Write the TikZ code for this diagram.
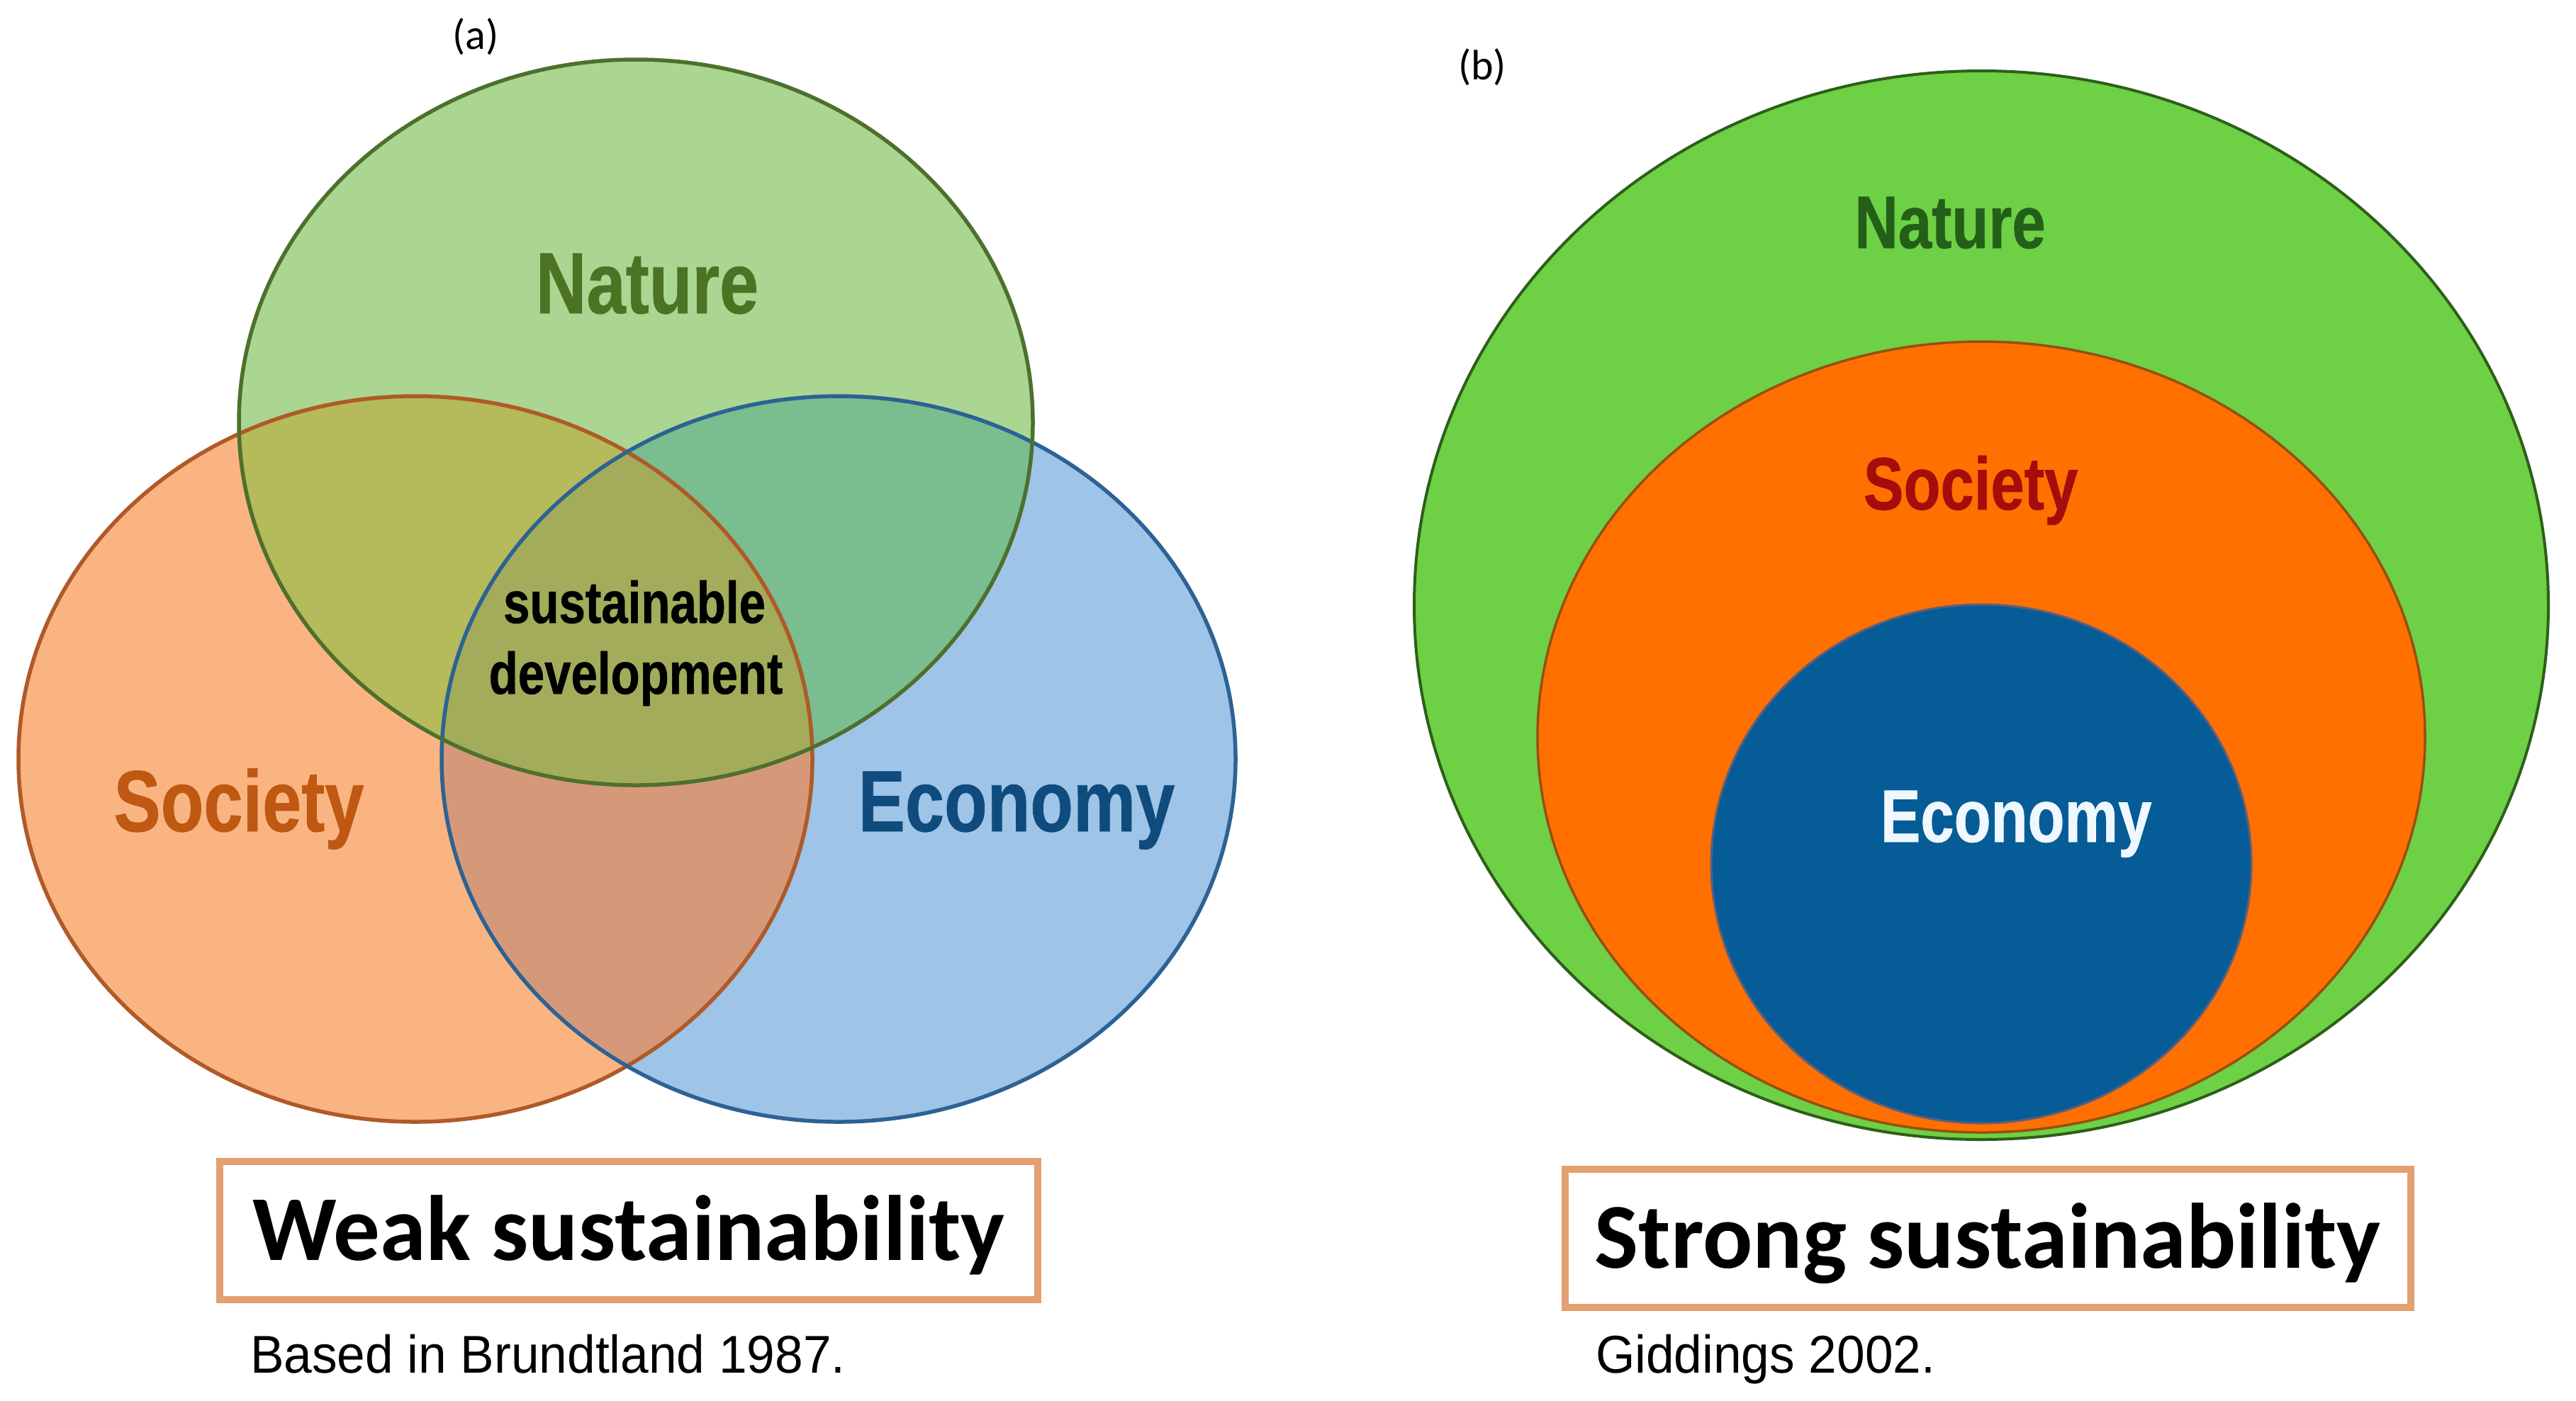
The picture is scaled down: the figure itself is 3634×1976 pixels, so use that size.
\documentclass[tikz,border=0pt]{standalone}
\usepackage{fontspec}
\setmainfont{Liberation Sans}
\newfontfamily\nb[FakeStretch=0.81,FakeBold=0.6]{Liberation Sans Bold}
\newfontfamily\cb{Carlito}
\newfontfamily\rf[FakeStretch=0.95]{Liberation Sans}
% weak-sustainability Venn colours
\definecolor{nA}{RGB}{170,214,146}
\definecolor{sA}{RGB}{250,180,130}
\definecolor{eA}{RGB}{158,196,232}
\definecolor{nsA}{RGB}{181,186,90}
\definecolor{neA}{RGB}{122,189,143}
\definecolor{seA}{RGB}{213,153,122}
\definecolor{nseA}{RGB}{162,172,90}
\definecolor{nStroke}{RGB}{78,112,45}
\definecolor{sStroke}{RGB}{175,90,40}
\definecolor{eStroke}{RGB}{45,98,148}
\definecolor{nTxtA}{RGB}{75,115,35}
\definecolor{sTxtA}{RGB}{190,88,18}
\definecolor{eTxtA}{RGB}{15,75,125}
% strong-sustainability colours
\definecolor{gB}{RGB}{110,208,68}
\definecolor{gBs}{RGB}{45,95,25}
\definecolor{oB}{RGB}{255,112,0}
\definecolor{oBs}{RGB}{150,80,15}
\definecolor{bB}{RGB}{6,92,150}
\definecolor{bBs}{RGB}{90,95,125}
\definecolor{nTxtB}{RGB}{35,95,25}
\definecolor{sTxtB}{RGB}{165,12,12}
\definecolor{eTxtB}{RGB}{240,248,255}
\definecolor{boxc}{RGB}{227,160,112}
\begin{document}
\begin{tikzpicture}[x=0.2pt,y=-0.2pt,
  lblA/.style={inner sep=0pt,anchor=base,font=\nb\fontsize{24.5}{29}\selectfont},
  lblB/.style={inner sep=0pt,anchor=base,font=\nb\fontsize{21}{25}\selectfont},
  sdtxt/.style={inner sep=0pt,anchor=base,text=black,font=\nb\fontsize{16.6}{20}\selectfont},
  titlebox/.style={draw=boxc,line width=2pt,fill=white,inner sep=0pt,
     minimum height=39pt,text height=20pt,text depth=3.2pt,
     font=\cb\bfseries\fontsize{26.2}{30}\selectfont},
  reftxt/.style={inner sep=0pt,anchor=base west,font=\rf\fontsize{15}{18}\selectfont},
  panel/.style={inner sep=0pt,font=\cb\fontsize{12}{14}\selectfont},
  venn/.style={line width=1.1pt}]
\fill[white] (0,0) rectangle (3634,1976);
\useasboundingbox (0,0) rectangle (3634,1976);

% ---------- (a) weak sustainability ----------
\coordinate (Nc) at (897,596);
\coordinate (Sc) at (586,1071);
\coordinate (Ec) at (1183,1071);
\fill[sA] (Sc) ellipse [x radius=560, y radius=512];
\fill[eA] (Ec) ellipse [x radius=560, y radius=512];
\fill[nA] (Nc) ellipse [x radius=560, y radius=512];
\begin{scope}
  \clip (Sc) ellipse [x radius=560, y radius=512];
  \fill[seA] (Ec) ellipse [x radius=560, y radius=512];
  \fill[nsA] (Nc) ellipse [x radius=560, y radius=512];
\end{scope}
\begin{scope}
  \clip (Ec) ellipse [x radius=560, y radius=512];
  \fill[neA] (Nc) ellipse [x radius=560, y radius=512];
\end{scope}
\begin{scope}
  \clip (Sc) ellipse [x radius=560, y radius=512];
  \clip (Ec) ellipse [x radius=560, y radius=512];
  \fill[nseA] (Nc) ellipse [x radius=560, y radius=512];
\end{scope}
\draw[venn,draw=sStroke] (Sc) ellipse [x radius=560, y radius=512];
\draw[venn,draw=eStroke] (Ec) ellipse [x radius=560, y radius=512];
\draw[venn,draw=nStroke] (Nc) ellipse [x radius=560, y radius=512];

\node[panel] (pa) at (671,52) {(a)};
\node[lblA,text=nTxtA] (natA) at (913,442) {Nature};
\node[lblA,text=sTxtA] (socA) at (337,1173) {Society};
\node[lblA,text=eTxtA] (ecoA) at (1434,1173) {Economy};
\node[sdtxt] (sd1) at (895,879) {sustainable};
\node[sdtxt] (sd2) at (897,979) {development};

\node[titlebox,minimum width=230.6pt] (weak) at (887,1736) {Weak sustainability};
\node[reftxt] (refA) at (352,1937) {Based in Brundtland 1987.};

% ---------- (b) strong sustainability ----------
\coordinate (Gc) at (2795,854);
\coordinate (Oc) at (2795,1040);
\coordinate (Bc) at (2795,1219);
\fill[gB,draw=gBs,line width=0.8pt] (Gc) ellipse [x radius=800, y radius=754];
\fill[oB,draw=oBs,line width=0.7pt] (Oc) ellipse [x radius=626, y radius=558];
\fill[bB,draw=bBs,line width=0.6pt] (Bc) ellipse [x radius=381, y radius=366];

\node[panel] (pb) at (2091,95) {(b)};
\node[lblB,text=nTxtB] (natB) at (2751,350) {Nature};
\node[lblB,text=sTxtB] (socB) at (2780,719) {Society};
\node[lblB,text=eTxtB] (ecoB) at (2844,1188) {Economy};

\node[titlebox,minimum width=238.6pt] (strong) at (2804,1747) {Strong sustainability};
\node[reftxt] (refB) at (2250,1937) {Giddings 2002.};
\end{tikzpicture}
\end{document}
